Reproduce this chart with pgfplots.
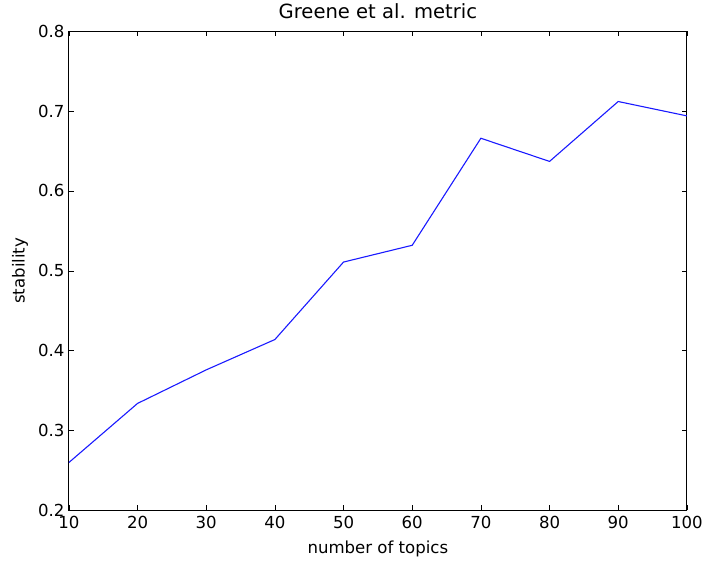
\documentclass[border=0pt]{standalone}
\usepackage{pgfplots}
\pgfplotsset{compat=1.18}
\usepackage{fontspec}
\setmainfont{DejaVu Sans}
\newcommand{\chartfont}{\fontsize{16.6bp}{20bp}\selectfont}
\newcommand{\titlefont}{\fontsize{19.6bp}{23bp}\selectfont}
\begin{document}
\begin{tikzpicture}
\begin{axis}[
  scale only axis,
  width=619bp, height=480bp,
  xmin=10, xmax=100, ymin=0.2, ymax=0.8,
  xtick={10,20,...,100},
  ytick={0.2,0.3,...,0.8},
  yticklabel style={xshift=-1bp, /pgf/number format/.cd,fixed,precision=1,zerofill},
  /pgf/number format/assume math mode=true,
  tick align=inside,
  major tick length=5bp,
  minor tick num=0,
  tick style={black, line width=0.6bp},
  axis line style={black, line width=0.8bp},
  tick label style={font=\chartfont},
  xticklabel style={yshift=-2bp},
  label style={font=\chartfont},
  title style={font=\titlefont, at={(axis description cs:0.5,1.030)}, anchor=center},
  title={Greene et al. metric},
  xlabel={number of topics},
  ylabel={stability},
  xlabel style={at={(axis description cs:0.5,-0.080)}, anchor=center},
  ylabel style={at={(axis description cs:-0.0792,0.5)}, anchor=center},
]
\addplot[color=blue!90!white, line width=1.1bp, mark=none] coordinates {
(10,0.260) (20,0.334) (30,0.376) (40,0.414) (50,0.511)
(60,0.532) (70,0.666) (80,0.637) (90,0.712) (100,0.694)
};
\end{axis}
\useasboundingbox ([shift={(-69bp,-51bp)}]current axis.south west) rectangle ([shift={(18bp,31bp)}]current axis.north east);
\end{tikzpicture}
\end{document}
